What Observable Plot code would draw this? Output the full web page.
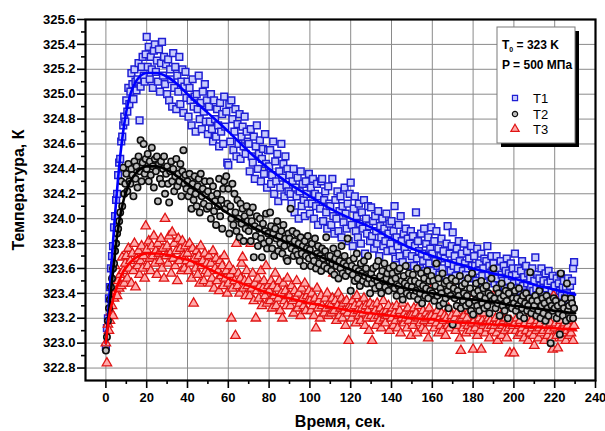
<!DOCTYPE html>
<html>
<head>
<meta charset="utf-8">
<script src="https://cdn.jsdelivr.net/npm/d3@7"></script>
<script src="https://cdn.jsdelivr.net/npm/@observablehq/plot@0.6"></script>
<style>
  html, body { margin: 0; padding: 0; background: #fff; }
</style>
</head>
<body>
<div id="chart"></div>
<script>
// Thermocouple readings, one every 0.5 s starting at t = 0
const sampleStep = 0.5;

const seriesNames = ["T1", "T2", "T3"];

const tempT1 = [
  322.97, 323.12, 323.2, 323.36, 323.45, 323.6, 323.7, 323.78, 323.93, 324.02, 324.15, 324.2, 324.35, 324.45, 324.48, 324.62, 324.66, 324.75, 324.82, 324.78,
  324.95, 324.86, 325.05, 324.92, 325.02, 325.17, 325.08, 324.96, 325.2, 325.1, 325.03, 325.12, 325.25, 324.79, 325.06, 325.22, 325.3, 325.15, 325.1, 325.32,
  325.46, 325.22, 325.38, 325.12, 325.3, 325.2, 325.05, 325.35, 325.4, 325.18, 325.27, 325.1, 325.36, 325.02, 325.25, 325.42, 325.15, 325.3, 325.08, 325.24,
  325.0, 325.28, 324.95, 325.2, 325.12, 324.9, 325.33, 325.05, 325.22, 324.88, 325.15, 325.02, 325.3, 324.92, 325.1, 325.2, 324.85, 325.06, 325.18, 324.97,
  325.1, 324.82, 325.05, 324.95, 324.75, 325.12, 324.9, 324.98, 324.7, 325.0, 324.88, 325.15, 324.8, 324.93, 324.72, 325.02, 324.86, 325.08, 324.78, 324.95,
  324.68, 324.9, 324.78, 325.0, 324.72, 324.62, 324.95, 324.8, 324.66, 324.88, 324.75, 324.58, 324.93, 324.7, 324.84, 324.6, 324.98, 324.74, 324.86, 324.45,
  324.43, 324.92, 324.62, 324.95, 324.8, 324.55, 324.7, 324.88, 324.5, 324.76, 324.6, 324.84, 324.48, 324.66, 324.74, 324.58, 324.82, 324.52, 324.7, 324.62,
  324.6, 324.38, 324.72, 324.5, 324.45, 324.66, 324.32, 324.58, 324.75, 324.4, 324.52, 324.63, 324.3, 324.48, 324.56, 324.36, 324.68, 324.44, 324.25, 324.55,
  324.42, 324.55, 324.28, 324.35, 324.62, 324.2, 324.46, 324.3, 324.52, 324.14, 324.38, 324.25, 324.6, 324.33, 324.44, 324.18, 324.5, 324.27, 324.4, 324.22,
  324.35, 324.2, 324.12, 324.3, 324.4, 324.05, 324.25, 324.18, 324.33, 324.0, 324.22, 324.38, 324.1, 324.28, 324.15, 324.02, 324.3, 324.2, 324.12, 324.36,
  324.04, 324.25, 324.12, 324.32, 324.0, 324.2, 324.1, 324.28, 323.95, 324.18, 324.08, 324.3, 324.32, 323.98, 324.15, 324.22, 324.05, 323.92, 324.26, 324.12,
  324.1, 323.95, 324.32, 324.02, 323.88, 324.15, 324.0, 324.22, 323.9, 324.06, 324.18, 323.85, 324.1, 323.97, 324.25, 324.04, 323.92, 324.12, 323.82, 324.2,
  324.29, 323.95, 323.78, 324.08, 324.18, 323.9, 324.02, 323.85, 324.12, 323.96, 323.8, 324.05, 323.92, 324.15, 323.72, 324.0, 323.88, 324.1, 323.94, 323.82,
  324.09, 323.86, 323.98, 323.76, 324.02, 323.9, 323.8, 324.06, 323.7, 323.94, 323.85, 324.0, 323.78, 323.92, 323.82, 324.04, 323.74, 323.88, 323.96, 323.8,
  323.98, 323.75, 323.9, 324.1, 323.68, 323.85, 323.78, 323.95, 323.7, 324.02, 323.82, 323.65, 323.88, 323.76, 323.92, 323.72, 323.84, 323.62, 323.8, 323.9,
  323.7, 323.86, 323.62, 323.78, 324.05, 323.68, 323.82, 323.74, 323.6, 323.88, 323.72, 323.66, 323.92, 323.58, 323.8, 323.7, 323.85, 323.64, 323.76, 323.93,
  323.72, 323.58, 323.82, 323.66, 323.9, 323.62, 323.76, 323.55, 323.7, 323.84, 323.6, 323.74, 323.68, 323.52, 323.8, 323.94, 323.64, 323.72, 323.58, 323.78,
  323.89, 323.62, 323.7, 323.54, 323.76, 323.6, 323.82, 323.66, 323.5, 323.72, 323.58, 323.8, 323.64, 323.55, 323.74, 323.6, 323.68, 323.52, 323.78, 323.62,
  323.56, 323.7, 323.62, 323.5, 323.76, 323.58, 323.64, 323.48, 323.72, 323.54, 323.6, 323.68, 323.45, 323.66, 323.78, 323.55, 323.62, 323.5, 323.7, 323.58,
  323.64, 323.48, 323.58, 323.7, 323.52, 323.6, 323.46, 323.66, 323.55, 323.5, 323.62, 323.44, 323.58, 323.68, 323.5, 323.56, 323.42, 323.64, 323.54, 323.6,
  323.48, 323.72, 323.55, 323.44, 323.6, 323.5, 323.42, 323.58, 323.66, 323.46, 323.53, 323.4, 323.62, 323.48, 323.56, 323.38, 323.52, 323.45, 323.6, 323.42,
  323.5, 323.69, 323.44, 323.55, 323.38, 323.52, 323.46, 323.6, 323.4, 323.5, 323.35, 323.56, 323.44, 323.48, 323.58, 323.38, 323.5, 323.42, 323.54, 323.36,
  323.46, 323.4, 323.52, 323.34, 323.48, 323.42, 323.55, 323.38, 323.45, 323.5, 323.36, 323.44, 323.4, 323.52, 323.32, 323.46, 323.38, 323.5, 323.6, 323.65
];

const tempT2 = [
  322.94, 323.05, 323.18, 323.28, 323.35, 323.45, 323.52, 323.6, 323.64, 323.74, 323.8, 323.88, 323.92, 323.98, 324.05, 324.3, 324.1, 324.41, 324.2, 324.28,
  324.36, 324.22, 324.44, 324.3, 324.28, 324.4, 324.35, 324.18, 324.46, 324.32, 324.42, 324.25, 324.5, 324.38, 324.63, 324.3, 324.45, 324.6, 324.36, 324.48,
  324.4, 324.52, 324.3, 324.46, 324.35, 324.57, 324.42, 324.25, 324.48, 324.38, 324.5, 324.14, 324.44, 324.32, 324.46, 324.28, 324.4, 324.5, 324.2, 324.36,
  324.42, 324.28, 324.13, 324.38, 324.46, 324.3, 324.4, 324.22, 324.34, 324.48, 324.26, 324.36, 324.3, 324.44, 324.18, 324.38, 324.55, 324.28, 324.35, 324.24,
  324.3, 324.18, 324.36, 324.22, 324.08, 324.28, 324.15, 324.34, 324.2, 324.1, 324.26, 324.32, 324.05, 324.36, 324.18, 324.24, 324.12, 324.3, 324.2, 324.08,
  324.22, 324.1, 324.3, 324.0, 324.18, 324.26, 324.06, 324.14, 323.95, 324.2, 324.1, 324.32, 324.02, 324.15, 323.92, 324.24, 324.3, 324.08, 324.34, 324.12,
  324.24, 323.88, 324.1, 324.0, 324.28, 323.95, 324.2, 324.05, 323.9, 324.15, 324.0, 323.85, 324.12, 323.96, 324.08, 323.82, 324.02, 323.92, 324.1, 323.98,
  323.9, 324.05, 323.82, 323.98, 324.09, 323.69, 323.94, 323.86, 324.02, 323.78, 323.92, 324.0, 323.84, 323.69, 323.96, 323.8, 323.9, 324.04, 323.76, 323.88,
  323.82, 324.05, 323.94, 323.76, 323.88, 323.7, 323.92, 323.84, 323.98, 323.74, 323.86, 323.8, 323.9, 323.72, 323.95, 323.78, 323.84, 323.68, 323.66, 323.88,
  323.84, 324.08, 323.76, 323.9, 323.7, 323.82, 323.74, 323.88, 323.71, 323.8, 323.66, 323.85, 323.72, 323.78, 323.62, 323.82, 323.7, 323.76, 323.86, 323.68,
  323.75, 323.62, 323.8, 323.7, 323.66, 323.84, 323.6, 323.72, 323.78, 323.64, 323.7, 323.58, 323.76, 323.68, 323.62, 323.74, 323.85, 323.6, 323.7, 323.66,
  323.7, 323.58, 323.64, 323.76, 323.55, 323.68, 323.62, 323.72, 323.52, 323.66, 323.6, 323.78, 323.56, 323.64, 323.7, 323.54, 323.62, 323.84, 323.58, 323.66,
  323.42, 323.62, 323.55, 323.68, 323.5, 323.6, 323.72, 323.52, 323.58, 323.46, 323.64, 323.56, 323.5, 323.66, 323.54, 323.6, 323.48, 323.7, 323.52, 323.4,
  323.56, 323.48, 323.6, 323.52, 323.44, 323.62, 323.5, 323.66, 323.46, 323.54, 323.4, 323.58, 323.5, 323.64, 323.45, 323.52, 323.56, 323.42, 323.6, 323.48,
  323.5, 323.56, 323.62, 323.44, 323.52, 323.38, 323.58, 323.46, 323.6, 323.42, 323.5, 323.35, 323.54, 323.48, 323.62, 323.4, 323.46, 323.56, 323.38, 323.5,
  323.45, 323.55, 323.38, 323.5, 323.42, 323.6, 323.35, 323.48, 323.4, 323.56, 323.32, 323.46, 323.52, 323.38, 323.44, 323.58, 323.36, 323.5, 323.42, 323.54,
  323.4, 323.5, 323.34, 323.46, 323.64, 323.38, 323.52, 323.3, 323.44, 323.4, 323.56, 323.32, 323.48, 323.36, 323.5, 323.42, 323.28, 323.46, 323.38, 323.52,
  323.15, 323.44, 323.36, 323.5, 323.3, 323.42, 323.38, 323.54, 323.28, 323.46, 323.34, 323.4, 323.48, 323.3, 323.38, 323.52, 323.32, 323.44, 323.26, 323.56,
  323.23, 323.4, 323.34, 323.48, 323.3, 323.42, 323.26, 323.38, 323.5, 323.32, 323.44, 323.28, 323.36, 323.46, 323.3, 323.4, 323.24, 323.38, 323.52, 323.34,
  323.6, 323.36, 323.28, 323.44, 323.32, 323.4, 323.22, 323.36, 323.48, 323.3, 323.38, 323.26, 323.42, 323.34, 323.2, 323.4, 323.3, 323.46, 323.28, 323.36,
  323.32, 323.42, 323.26, 323.36, 323.3, 323.44, 323.22, 323.34, 323.28, 323.38, 323.2, 323.32, 323.4, 323.26, 323.3, 323.36, 323.57, 323.24, 323.34, 323.28,
  323.3, 323.38, 323.22, 323.34, 323.26, 323.42, 323.2, 323.3, 323.36, 323.24, 323.32, 323.18, 323.38, 323.28, 323.22, 323.34, 323.0, 323.3, 323.26, 323.36,
  323.28, 323.34, 323.2, 323.3, 323.24, 323.07, 323.56, 323.32, 323.22, 323.28, 323.36, 323.18, 323.48, 323.26, 323.3, 323.2, 323.36, 323.32, 323.2, 323.28
];

const tempT3 = [
  323.0, 322.84, 323.15, 323.1, 323.18, 323.25, 323.3, 323.22, 323.36, 323.62, 323.42, 323.38, 323.5, 323.44, 323.55, 323.46, 323.69, 323.58, 323.48, 323.64,
  323.7, 323.52, 323.76, 323.6, 323.66, 323.48, 323.72, 323.58, 323.8, 323.45, 323.68, 323.62, 323.74, 323.55, 323.66, 323.78, 323.6, 323.7, 323.52, 323.94,
  323.75, 323.62, 323.82, 323.68, 323.58, 323.78, 323.7, 323.86, 323.64, 323.74, 323.55, 323.8, 323.72, 323.66, 323.84, 323.6, 323.76, 323.52, 324.0, 323.7,
  323.78, 323.64, 323.86, 323.72, 323.56, 323.89, 323.68, 323.8, 323.62, 323.74, 323.5, 323.84, 323.66, 323.76, 323.58, 323.82, 323.7, 323.6, 323.78, 323.66,
  323.72, 323.58, 323.8, 323.64, 323.52, 323.76, 323.32, 323.68, 323.6, 323.74, 323.55, 323.7, 323.48, 323.78, 323.62, 323.66, 323.5, 323.72, 323.58, 323.64,
  323.56, 323.7, 323.48, 323.64, 323.52, 323.74, 323.44, 323.6, 323.68, 323.5, 323.58, 323.42, 323.66, 323.54, 323.62, 323.46, 323.7, 323.52, 323.58, 323.4,
  323.48, 323.62, 323.55, 323.2, 323.44, 323.58, 323.5, 323.06, 323.8, 323.46, 323.56, 323.4, 323.52, 323.64, 323.69, 323.44, 323.5, 323.38, 323.58, 323.46,
  323.5, 323.38, 323.8, 323.44, 323.56, 323.34, 323.48, 323.2, 323.42, 323.52, 323.36, 323.46, 323.58, 323.3, 323.44, 323.5, 323.38, 323.62, 323.32, 323.46,
  323.42, 323.34, 323.5, 323.28, 323.46, 323.38, 323.56, 323.3, 323.44, 323.36, 323.5, 323.26, 323.4, 323.2, 323.48, 323.34, 323.42, 323.3, 323.52, 323.38,
  323.38, 323.3, 323.46, 323.34, 323.24, 323.42, 323.36, 323.5, 323.28, 323.4, 323.32, 323.22, 323.44, 323.36, 323.3, 323.48, 323.26, 323.38, 323.34, 323.42,
  323.34, 323.26, 323.4, 323.3, 323.22, 323.36, 323.12, 323.44, 323.28, 323.34, 323.2, 323.38, 323.3, 323.62, 323.24, 323.36, 323.28, 323.4, 323.22, 323.32,
  323.3, 323.24, 323.36, 323.56, 323.26, 323.34, 323.18, 323.3, 323.4, 323.22, 323.28, 323.36, 323.2, 323.32, 323.26, 323.14, 323.34, 323.24, 323.02, 323.3,
  323.28, 323.2, 323.34, 323.24, 323.3, 323.16, 323.38, 323.26, 323.22, 323.32, 323.18, 323.28, 323.24, 323.36, 323.14, 323.3, 323.2, 323.26, 323.1, 323.32,
  323.22, 323.02, 323.3, 323.2, 323.26, 323.14, 323.32, 323.22, 323.18, 323.28, 323.12, 323.24, 323.34, 323.2, 323.16, 323.26, 323.22, 323.3, 323.1, 323.24,
  323.2, 323.28, 323.14, 323.24, 323.18, 323.3, 323.12, 323.22, 323.26, 323.08, 323.2, 323.32, 323.16, 323.24, 323.2, 323.12, 323.28, 323.18, 323.22, 323.06,
  323.22, 323.14, 323.28, 323.18, 323.24, 323.08, 323.2, 323.3, 323.16, 323.22, 323.12, 323.26, 323.18, 323.1, 323.24, 323.2, 323.04, 323.28, 323.16, 323.22,
  323.18, 323.46, 323.12, 323.22, 323.16, 323.26, 323.08, 323.2, 323.14, 323.24, 323.1, 323.18, 323.22, 323.06, 323.2, 323.14, 323.28, 323.12, 323.18, 323.22,
  323.44, 323.16, 323.2, 323.1, 323.24, 323.14, 323.18, 323.04, 322.94, 323.2, 323.12, 323.22, 323.16, 323.08, 323.2, 323.14, 323.26, 323.1, 323.4, 323.16,
  322.95, 323.18, 323.12, 323.22, 323.06, 323.16, 323.2, 323.1, 322.95, 323.18, 323.14, 323.24, 323.08, 323.16, 323.12, 323.2, 323.04, 323.18, 323.14, 323.1,
  323.38, 323.14, 323.2, 323.08, 323.02, 323.16, 323.12, 323.22, 323.06, 323.14, 323.18, 323.1, 323.2, 323.04, 323.16, 323.12, 322.92, 323.18, 323.1, 323.14,
  322.92, 323.16, 323.1, 323.2, 323.06, 323.14, 323.18, 323.08, 323.12, 323.34, 323.04, 323.16, 323.1, 323.2, 323.02, 323.14, 323.08, 323.18, 323.12, 323.06,
  322.98, 323.14, 323.1, 323.18, 323.04, 323.12, 323.16, 323.08, 323.2, 323.1, 323.02, 323.14, 323.18, 323.06, 323.12, 323.1, 323.16, 323.04, 322.95, 323.38,
  323.12, 323.16, 323.06, 322.96, 323.14, 323.1, 323.18, 323.04, 323.12, 323.08, 323.16, 323.02, 323.1, 323.14, 323.06, 323.18, 323.08, 323.12, 323.02, 323.14
];

// Fitted curves, sampled at these times
const fitTime = [0, 1, 2, 3, 4, 5, 6, 7, 8, 9, 10, 12, 15, 20, 25, 30, 35, 40, 50, 60, 70, 80, 90, 100, 110, 120, 130, 140, 150, 160, 170, 180, 190, 200, 210, 220, 230];
const fitT1 = [323.0, 323.22, 323.45, 323.7, 323.93, 324.14, 324.33, 324.5, 324.64, 324.76, 324.86, 325.0, 325.11, 325.17, 325.17, 325.14, 325.08, 325.0, 324.85, 324.7, 324.54, 324.4, 324.28, 324.18, 324.08, 324.0, 323.93, 323.84, 323.76, 323.7, 323.65, 323.6, 323.56, 323.52, 323.47, 323.43, 323.39];
const fitT2 = [323.0, 323.17, 323.33, 323.5, 323.65, 323.8, 323.92, 324.02, 324.1, 324.17, 324.22, 324.3, 324.37, 324.42, 324.42, 324.39, 324.34, 324.28, 324.16, 324.04, 323.95, 323.87, 323.8, 323.73, 323.66, 323.59, 323.53, 323.47, 323.43, 323.4, 323.37, 323.35, 323.33, 323.3, 323.28, 323.26, 323.24];
const fitT3 = [323.0, 323.15, 323.25, 323.32, 323.38, 323.43, 323.48, 323.52, 323.56, 323.59, 323.61, 323.65, 323.69, 323.72, 323.72, 323.71, 323.69, 323.67, 323.6, 323.52, 323.46, 323.4, 323.36, 323.32, 323.29, 323.26, 323.24, 323.22, 323.2, 323.19, 323.17, 323.16, 323.15, 323.14, 323.13, 323.12, 323.11];

// Axis ticks
const xTicks = [0, 20, 40, 60, 80, 100, 120, 140, 160, 180, 200, 220, 240];
const xMinor = [10, 30, 50, 70, 90, 110, 130, 150, 170, 190, 210, 230];
const yTicks = [322.8, 323.0, 323.2, 323.4, 323.6, 323.8, 324.0, 324.2, 324.4, 324.6, 324.8, 325.0, 325.2, 325.4, 325.6];
const yMinor = [322.9, 323.1, 323.3, 323.5, 323.7, 323.9, 324.1, 324.3, 324.5, 324.7, 324.9, 325.1, 325.3, 325.5];

const xTitle = "Время, сек.";
const yTitle = "Температура, К";
const condT0 = "323 K";
const condP = "P = 500 МПа";

const font = "'Liberation Sans', Arial, Helvetica, sans-serif";

const readings = vals => vals.map((v, i) => ({t: i * sampleStep, v}));
const fitted = vals => vals.map((v, i) => ({t: fitTime[i], v}));

const style = {
  T1: {symbol: "square", r: 3.8, stroke: "#1f1fd4", fill: "#c8ccfc", width: 1.5, line: "#0000ff"},
  T2: {symbol: "circle", r: 3.2, stroke: "#0d0d0d", fill: "#bdbdbd", width: 1.6, line: "#000000"},
  T3: {symbol: "triangle", r: 3.5, stroke: "#e01414", fill: "#ffaaaa", width: 1.3, line: "#ff0000"}
};

const dots = (vals, s) => Plot.dot(readings(vals), {
  x: "t", y: "v", symbol: s.symbol, r: s.r, stroke: s.stroke, fill: s.fill, strokeWidth: s.width
});
const fitLine = (vals, s) => Plot.line(fitted(vals), {
  x: "t", y: "v", stroke: s.line, strokeWidth: 2.6, curve: "monotone-x"
});

const chart = Plot.plot({
  width: 605,
  height: 431,
  marginLeft: 85,
  marginRight: 10,
  marginTop: 19,
  marginBottom: 51,
  style: {fontFamily: font, fontSize: "13px", background: "#fff", color: "#000"},
  x: {domain: [-10, 240]},
  y: {domain: [322.7, 325.6]},
  marks: [
    Plot.gridX({ticks: xTicks.filter(d => d < 240), stroke: "#8a8a8a", strokeOpacity: 1, strokeWidth: 1}),
    Plot.gridY({ticks: yTicks.filter(d => d < 325.6), stroke: "#8a8a8a", strokeOpacity: 1, strokeWidth: 1}),
    dots(tempT1, style.T1),
    dots(tempT3, style.T3),
    dots(tempT2, style.T2),
    fitLine(fitT1, style.T1),
    fitLine(fitT2, style.T2),
    fitLine(fitT3, style.T3),
    Plot.axisX({ticks: xTicks, tickSize: 8, tickPadding: 4, tickFormat: d => String(d), fontWeight: "bold", strokeWidth: 1.6, label: null}),
    Plot.axisX({ticks: xMinor, tickSize: 4, tickFormat: () => "", strokeWidth: 1.6, label: null}),
    Plot.axisY({ticks: yTicks, tickSize: 8, tickPadding: 2, tickFormat: d => d.toFixed(1), fontWeight: "bold", strokeWidth: 1.6, label: null}),
    Plot.axisY({ticks: yMinor, tickSize: 4, tickFormat: () => "", strokeWidth: 1.6, label: null}),
    Plot.frame({stroke: "#000", strokeWidth: 2.2})
  ]
});

document.getElementById("chart").appendChild(chart);

const svg = d3.select(chart);

// Axis titles
svg.append("text")
  .attr("x", 340).attr("y", 421)
  .attr("text-anchor", "middle").attr("dominant-baseline", "central")
  .style("font", `bold 16px ${font}`)
  .text(xTitle);

svg.append("text")
  .attr("transform", "translate(18,190) rotate(-90)")
  .attr("text-anchor", "middle").attr("dominant-baseline", "central")
  .style("font", `bold 16px ${font}`)
  .text(yTitle);

// Legend box with drop shadow
const lg = svg.append("g").attr("text-anchor", "start");
lg.append("rect").attr("x", 501).attr("y", 31).attr("width", 78).attr("height", 116).attr("fill", "#000");
lg.append("rect").attr("x", 497).attr("y", 27).attr("width", 78).attr("height", 116)
  .attr("fill", "#fff").attr("stroke", "#7a7a7a").attr("stroke-width", 1);

const t0 = lg.append("text").attr("x", 502).attr("y", 49)
  .attr("text-anchor", "start").style("font", `bold 12px ${font}`);
t0.append("tspan").text("T");
t0.append("tspan").attr("dy", 3).style("font-size", "7px").text("0");
t0.append("tspan").attr("dy", -3).text(" = " + condT0);

lg.append("text").attr("x", 502).attr("y", 69)
  .attr("text-anchor", "start").style("font", `bold 12px ${font}`).text(condP);

const legendRows = [
  {name: seriesNames[0], s: style.T1, y: 98, size: 26},
  {name: seriesNames[1], s: style.T2, y: 114, size: 22},
  {name: seriesNames[2], s: style.T3, y: 129, size: 30}
];
const symbolType = {square: d3.symbolSquare, circle: d3.symbolCircle, triangle: d3.symbolTriangle};
for (const row of legendRows) {
  lg.append("path")
    .attr("d", d3.symbol(symbolType[row.s.symbol], row.size)())
    .attr("transform", `translate(515,${row.y})`)
    .attr("fill", row.s.fill).attr("stroke", row.s.stroke).attr("stroke-width", 1.2);
  lg.append("text").attr("x", 533).attr("y", row.y + 5)
    .attr("text-anchor", "start")
    .style("font", `13px ${font}`).text(row.name);
}
</script>
</body>
</html>
